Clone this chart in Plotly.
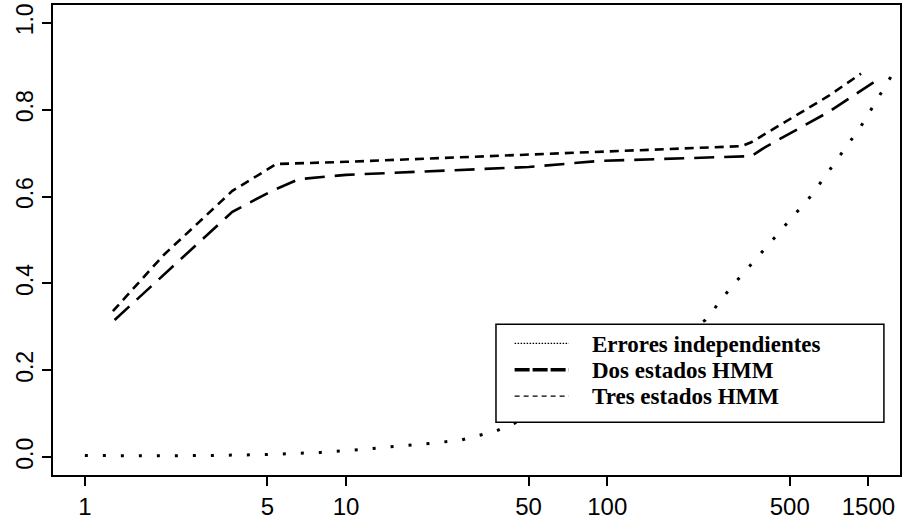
import plotly.graph_objects as go

# Data
x_errores = [1, 1.3, 2, 3, 5, 8, 10.6, 14.2, 19.6, 27.3, 37.5, 100, 238, 296, 604, 937, 1220]
y_errores = [0.004, 0.003, 0.003, 0.004, 0.006, 0.011, 0.016, 0.023, 0.03, 0.039, 0.06, 0.17, 0.316, 0.389, 0.602, 0.762, 0.876]

x_dos = [1.30, 2.0, 3.67, 5.2, 6.6, 10, 50, 93, 356, 403, 701, 1060]
y_dos = [0.316, 0.419, 0.565, 0.613, 0.64, 0.65, 0.668, 0.682, 0.693, 0.714, 0.794, 0.865]

x_tres = [1.28, 2.0, 3.67, 5.41, 10, 50, 100, 326, 356, 701, 937]
y_tres = [0.336, 0.465, 0.613, 0.675, 0.68, 0.697, 0.705, 0.716, 0.725, 0.831, 0.883]

x_tick_vals = [1, 5, 10, 50, 100, 500, 1000]
x_tick_text = ["1", "5", "10", "50", "100", "500", "1500"]
y_tick_vals = [0.0, 0.2, 0.4, 0.6, 0.8, 1.0]
y_tick_text = ["0.0", "0.2", "0.4", "0.6", "0.8", "1.0"]

names = ["Errores independientes", "Dos estados HMM", "Tres estados HMM"]

# plot styles: (width, dash) for the curves and for the legend samples
plot_styles = [(3, "3px,15px"), (2.6, "20px,10px"), (2.6, "9px,6px")]
legend_styles = [(1.2, "1.5px,1.5px"), (3.5, "15px,3px"), (1.2, "5px,4px")]

fig = go.Figure()
for xs, ys, nm, (w, d) in zip([x_errores, x_dos, x_tres], [y_errores, y_dos, y_tres], names, plot_styles):
    fig.add_trace(go.Scatter(x=xs, y=ys, mode="lines", name=nm, showlegend=False,
                             line=dict(color="black", width=w, dash=d)))

# Legend box drawn in paper coordinates (boxed legend, lower right)
fig.add_shape(type="rect", xref="paper", yref="paper", x0=0.523, x1=0.981, y0=0.112, y1=0.321,
              fillcolor="white", line=dict(color="black", width=1.5), layer="above")
leg_sample_y = [0.280, 0.224, 0.168]
leg_text_y = [0.278, 0.222, 0.166]
for nm, (w, d), ys, yt in zip(names, legend_styles, leg_sample_y, leg_text_y):
    fig.add_shape(type="line", xref="paper", yref="paper", x0=0.545, x1=0.609, y0=ys, y1=ys,
                  line=dict(color="black", width=w, dash=d), layer="above")
    fig.add_annotation(xref="paper", yref="paper", x=0.635, y=yt, xanchor="left", yanchor="middle",
                       text=nm, showarrow=False, borderpad=0,
                       font=dict(family="Liberation Serif", size=23, color="black", weight="bold"))

fig.update_layout(
    width=904, height=522,
    margin=dict(l=53, r=2, t=5, b=44),
    paper_bgcolor="white", plot_bgcolor="white",
    showlegend=False,
    xaxis=dict(
        type="log", range=[-0.122, 3.121],
        tickvals=x_tick_vals, ticktext=x_tick_text,
        showline=True, mirror=True, linecolor="black", linewidth=1.5,
        ticks="outside", ticklen=9, tickwidth=1.5, tickcolor="black",
        showgrid=False, zeroline=False,
        tickfont=dict(family="Liberation Sans", size=24, color="black"),
    ),
    yaxis=dict(
        range=[-0.041, 1.041],
        tickvals=y_tick_vals, ticktext=y_tick_text, tickangle=-90,
        showline=True, mirror=True, linecolor="black", linewidth=1.5,
        ticks="outside", ticklen=9, tickwidth=1.5, tickcolor="black",
        showgrid=False, zeroline=False,
        tickfont=dict(family="Liberation Sans", size=23, color="black"),
    ),
)

fig.write_html("out.html")
